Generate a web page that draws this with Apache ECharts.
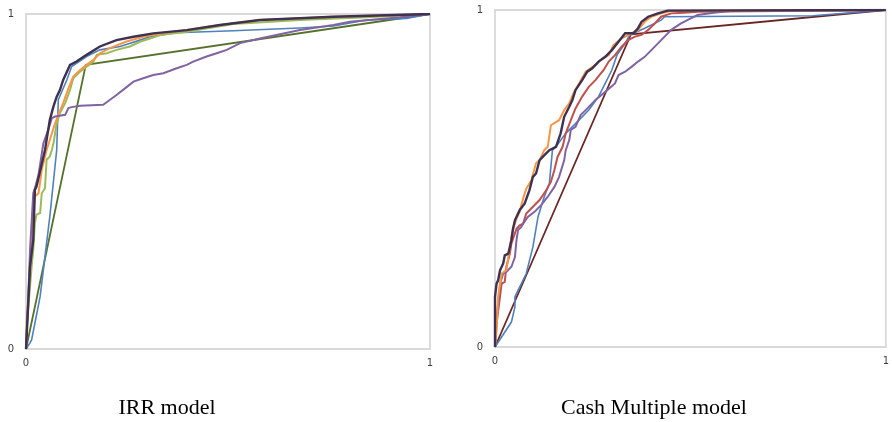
<!DOCTYPE html>
<html>
<head>
<meta charset="utf-8">
<script src="https://cdn.jsdelivr.net/npm/echarts@6/dist/echarts.min.js"></script>
<style>html,body{margin:0;padding:0;background:#fff;}#c{width:892px;height:422px;}</style>
</head>
<body>
<div id="c"></div>
<script>
// Axis tick labels (both panels)
var tickValues = [0, 1];
var panelTitles = ['IRR model', 'Cash Multiple model'];

// ---- IRR model (left panel) ----
var irrOlive = [[0,0],[0.148,0.848],[1,1]];
var irrBlue = [[0,0],[0.010,0.018],[0.014,0.028],[0.035,0.157],[0.059,0.396],[0.076,0.594],[0.080,0.744],[0.101,0.803],[0.113,0.843],[0.150,0.873],[0.183,0.893],[0.233,0.903],[0.282,0.922],[0.307,0.932],[0.373,0.944],[0.513,0.950],[0.678,0.958],[0.761,0.964],[0.843,0.982],[0.942,0.987],[1,1]];
var irrGreen = [[0,0],[0.002,0.087],[0.006,0.127],[0.014,0.247],[0.018,0.296],[0.022,0.376],[0.026,0.401],[0.035,0.406],[0.039,0.465],[0.047,0.480],[0.051,0.565],[0.059,0.575],[0.064,0.594],[0.068,0.614],[0.072,0.644],[0.076,0.674],[0.084,0.704],[0.097,0.734],[0.109,0.773],[0.117,0.808],[0.134,0.828],[0.150,0.843],[0.167,0.858],[0.175,0.878],[0.200,0.883],[0.224,0.893],[0.257,0.903],[0.282,0.917],[0.307,0.927],[0.332,0.937],[0.398,0.947],[0.513,0.970],[0.678,0.982],[0.843,0.990],[1,1]];
var irrOrange = [[0,0],[0.005,0.147],[0.010,0.247],[0.014,0.346],[0.022,0.455],[0.031,0.465],[0.039,0.535],[0.051,0.594],[0.059,0.624],[0.072,0.674],[0.080,0.699],[0.092,0.734],[0.105,0.778],[0.117,0.813],[0.134,0.833],[0.150,0.848],[0.167,0.863],[0.183,0.883],[0.208,0.898],[0.249,0.918],[0.290,0.932],[0.332,0.942],[0.398,0.952],[0.480,0.967],[0.579,0.982],[0.761,0.992],[1,1]];
var irrPurple = [[0,0],[0.002,0.048],[0.006,0.167],[0.010,0.296],[0.018,0.465],[0.022,0.480],[0.031,0.520],[0.043,0.614],[0.055,0.654],[0.064,0.689],[0.072,0.694],[0.097,0.699],[0.105,0.719],[0.113,0.722],[0.134,0.726],[0.191,0.729],[0.208,0.744],[0.224,0.758],[0.245,0.778],[0.266,0.798],[0.290,0.808],[0.315,0.818],[0.340,0.823],[0.373,0.838],[0.398,0.848],[0.414,0.858],[0.447,0.873],[0.472,0.883],[0.497,0.893],[0.530,0.913],[0.579,0.927],[0.678,0.952],[0.761,0.967],[0.802,0.977],[0.926,0.990],[1,1]];
var irrNavy = [[0,0],[0.002,0.048],[0.006,0.147],[0.010,0.247],[0.018,0.326],[0.022,0.475],[0.026,0.485],[0.047,0.594],[0.059,0.684],[0.068,0.724],[0.076,0.753],[0.084,0.773],[0.092,0.803],[0.109,0.848],[0.125,0.858],[0.150,0.878],[0.183,0.903],[0.224,0.922],[0.266,0.932],[0.315,0.942],[0.398,0.952],[0.480,0.967],[0.579,0.982],[0.761,0.992],[1,1]];

// ---- Cash Multiple model (right panel) ----
var cmBrown = [[0,0],[0.348,0.928],[1,1]];
var cmBlue = [[0,0],[0.042,0.074],[0.051,0.119],[0.051,0.149],[0.080,0.218],[0.097,0.297],[0.110,0.386],[0.126,0.446],[0.139,0.485],[0.147,0.584],[0.156,0.594],[0.181,0.634],[0.206,0.663],[0.240,0.703],[0.265,0.743],[0.282,0.782],[0.299,0.822],[0.312,0.866],[0.333,0.901],[0.345,0.926],[0.383,0.946],[0.425,0.970],[0.434,0.980],[0.813,0.983],[1,1]];
var cmOrange = [[0,0],[0.004,0.050],[0.008,0.149],[0.017,0.218],[0.029,0.228],[0.042,0.327],[0.046,0.347],[0.055,0.381],[0.063,0.401],[0.072,0.441],[0.080,0.470],[0.093,0.495],[0.105,0.545],[0.114,0.554],[0.126,0.584],[0.135,0.594],[0.143,0.658],[0.164,0.673],[0.177,0.703],[0.190,0.723],[0.202,0.757],[0.215,0.782],[0.232,0.817],[0.257,0.837],[0.270,0.851],[0.291,0.866],[0.303,0.896],[0.324,0.916],[0.350,0.931],[0.366,0.941],[0.383,0.965],[0.400,0.980],[0.425,0.990],[0.451,0.997],[1,1]];
var cmRed = [[0,0],[0.004,0.069],[0.017,0.188],[0.025,0.193],[0.029,0.238],[0.038,0.277],[0.042,0.307],[0.055,0.351],[0.063,0.361],[0.072,0.366],[0.080,0.396],[0.097,0.416],[0.114,0.436],[0.131,0.465],[0.143,0.490],[0.152,0.525],[0.160,0.564],[0.173,0.594],[0.181,0.634],[0.194,0.673],[0.206,0.708],[0.223,0.743],[0.240,0.772],[0.257,0.792],[0.278,0.822],[0.291,0.847],[0.307,0.866],[0.324,0.891],[0.341,0.911],[0.358,0.921],[0.375,0.926],[0.392,0.941],[0.409,0.960],[0.425,0.980],[0.451,0.990],[0.484,0.992],[0.518,0.995],[1,1]];
var cmPurple = [[0,0],[0.004,0.079],[0.008,0.129],[0.013,0.188],[0.021,0.218],[0.029,0.223],[0.042,0.238],[0.051,0.267],[0.055,0.317],[0.059,0.347],[0.067,0.356],[0.072,0.366],[0.084,0.386],[0.101,0.401],[0.118,0.421],[0.135,0.446],[0.152,0.475],[0.164,0.505],[0.177,0.554],[0.181,0.584],[0.190,0.614],[0.194,0.644],[0.206,0.653],[0.219,0.688],[0.232,0.703],[0.257,0.733],[0.282,0.757],[0.307,0.782],[0.316,0.807],[0.333,0.817],[0.350,0.832],[0.366,0.847],[0.383,0.861],[0.400,0.881],[0.417,0.901],[0.434,0.921],[0.451,0.941],[0.476,0.960],[0.501,0.975],[0.518,0.985],[0.560,0.992],[0.602,0.997],[1,1]];
var cmNavy = [[0,0],[0,0.149],[0.004,0.188],[0.008,0.198],[0.013,0.228],[0.021,0.248],[0.025,0.272],[0.034,0.277],[0.042,0.317],[0.046,0.351],[0.051,0.376],[0.063,0.406],[0.076,0.426],[0.088,0.465],[0.097,0.505],[0.105,0.515],[0.114,0.554],[0.122,0.564],[0.139,0.584],[0.156,0.594],[0.168,0.634],[0.177,0.683],[0.190,0.713],[0.198,0.733],[0.206,0.762],[0.223,0.792],[0.236,0.817],[0.249,0.827],[0.265,0.847],[0.282,0.861],[0.299,0.881],[0.316,0.906],[0.333,0.931],[0.354,0.931],[0.366,0.946],[0.375,0.965],[0.392,0.980],[0.417,0.990],[0.442,0.998],[1,1]];

var C = {blue:'#4F81BD', orange:'#F79646', green:'#9BBB59', purple:'#8064A2', navy:'#3F3151', olive:'#56712B', red:'#C0504D', brown:'#6B2524'};

function axis(idx, dir) {
  return {
    type: 'value', gridIndex: idx, min: tickValues[0], max: tickValues[tickValues.length-1], interval: 1,
    axisLine: {show: false}, axisTick: {show: false}, splitLine: {show: false},
    axisLabel: {fontFamily: 'DejaVu Sans', fontSize: 10, color: '#404040', margin: dir === 'x' ? 9 : 12}
  };
}
function line(data, gi, color, w) {
  return {type: 'line', xAxisIndex: gi, yAxisIndex: gi, data: data, showSymbol: false, symbol: 'none',
    lineStyle: {color: color, width: w, join: 'miter'}, emphasis: {disabled: true}, silent: true};
}

var chart = echarts.init(document.getElementById('c'), null, {renderer: 'canvas'});
chart.setOption({
  animation: false,
  backgroundColor: '#fff',
  grid: [
    {left: 26, top: 14, width: 404, height: 335, show: true, borderColor: '#d9d9d9', borderWidth: 1.8, backgroundColor: 'transparent'},
    {left: 495, top: 10, width: 395, height: 337, show: true, borderColor: '#d9d9d9', borderWidth: 1.8, backgroundColor: 'transparent'}
  ],
  xAxis: [axis(0,'x'), axis(1,'x')],
  yAxis: [axis(0,'y'), axis(1,'y')],
  series: [
    line(irrOlive, 0, C.olive, 1.8),
    line(irrBlue, 0, C.blue, 1.6),
    line(irrGreen, 0, C.green, 2),
    line(irrOrange, 0, C.orange, 2),
    line(irrPurple, 0, C.purple, 2),
    line(irrNavy, 0, C.navy, 2.4),
    line(cmBrown, 1, C.brown, 1.8),
    line(cmBlue, 1, C.blue, 1.6),
    line(cmRed, 1, C.red, 2),
    line(cmPurple, 1, C.purple, 2),
    line(cmOrange, 1, C.orange, 2),
    line(cmNavy, 1, C.navy, 2.4)
  ],
  graphic: [
    {type: 'text', x: 167, y: 408, style: {text: panelTitles[0], font: '22px "Liberation Serif"', fill: '#000', align: 'center', verticalAlign: 'middle'}},
    {type: 'text', x: 654, y: 408, style: {text: panelTitles[1], font: '22px "Liberation Serif"', fill: '#000', align: 'center', verticalAlign: 'middle'}}
  ]
});
</script>
</body>
</html>
